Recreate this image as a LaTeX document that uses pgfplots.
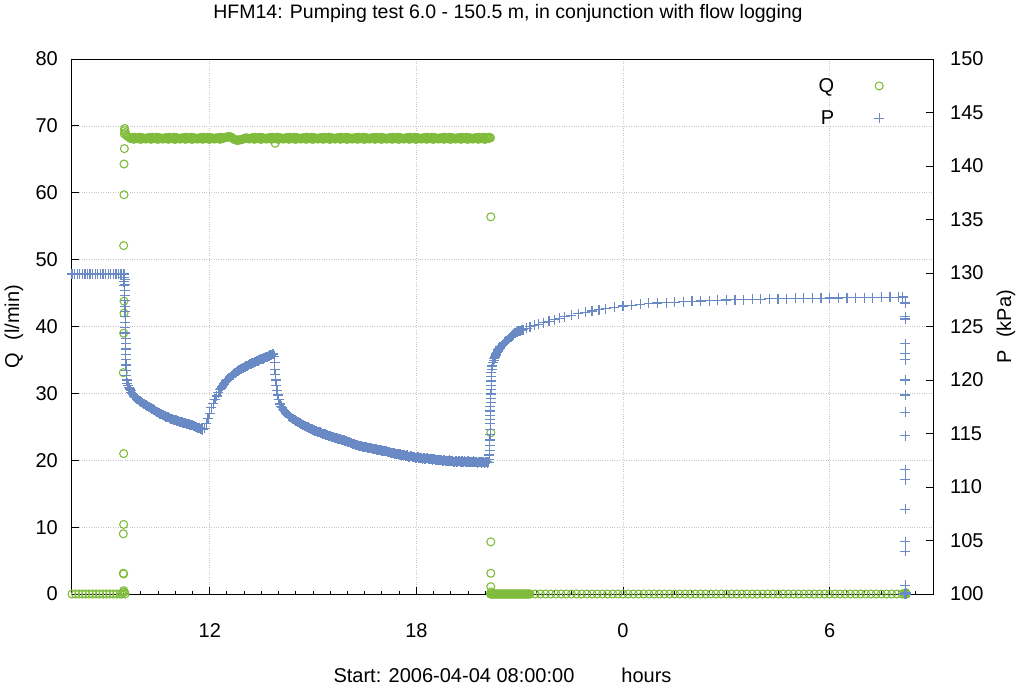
\documentclass[border=0pt]{standalone}
\usepackage{fontspec}
\setmainfont{Liberation Sans}
\usepackage{pgfplots}
\pgfplotsset{compat=1.18}
\definecolor{qgreen}{RGB}{128,188,60}
\definecolor{pblue}{RGB}{106,138,198}
\newcommand{\fs}{\fontsize{20}{24}\selectfont}
\pgfplotsset{
 common/.style={
  scale only axis, width=861pt, height=535pt, at={(0,0)}, anchor=south west,
  xmin=8, xmax=33, clip=false,
  tick align=inside, major tick length=7pt, minor tick length=3.5pt,
  /pgf/number format/assume math mode=true,
  tick label style={font=\fs},
  axis line style={line width=1pt},
  every tick/.style={black, line width=1pt},
 }
}
\begin{document}
\begin{tikzpicture}
\useasboundingbox (-72pt,-95pt) rectangle (944pt,594pt);
\begin{axis}[common,
 ymin=0, ymax=80, ytick={0,10,...,80},
 xtick={12,18,24,30}, xticklabels={12,18,0,6},
 minor xtick={8.5,9,...,32.5},
 xtick pos=left, ytick pos=left,
 grid=major, major grid style={dotted, color=black!22, line width=0.7pt},
 xticklabel style={anchor=base, yshift=-43pt, inner sep=0pt},
 yticklabel style={anchor=east, xshift=-14pt, inner sep=0pt},
 title={HFM14: Pumping test 6.0 - 150.5 m, in conjunction with flow logging},
 every axis title/.style={font=\fontsize{19.5}{23}\selectfont, at={(axis description cs:0.5064,1.0761)}, anchor=base},
 xlabel={Start: 2006-04-04 08:00:00\hspace{47pt}hours},
 every axis x label/.style={font=\fs, at={(axis description cs:0.5,-0.165)}, anchor=base},
 ylabel={Q\hspace{0.6em}(l/min)},
 every axis y label/.style={font=\fs, at={(axis description cs:-0.0674,0.5)}, rotate=90, anchor=center},
]
\addplot[only marks, mark=o, mark size=4pt, qgreen, line width=1.1pt] coordinates {
(8.0,0)(8.1,0)(8.2,0)(8.3,0)(8.4,0)(8.5,0)(8.6,0)(8.7,0)(8.8,0)(8.9,0)(9.0,0)(9.1,0)(9.2,0)(9.3,0)(9.4,0)(9.45,0)(9.48,0.2)(9.5,0.5)(9.52,0.3)(9.54,0)
(9.49,3.1)(9.50,3.0)(9.49,9.0)(9.50,10.4)(9.50,21.0)(9.49,33.1)(9.50,39.0)(9.51,42.0)(9.51,43.8)(9.50,52.1)(9.51,59.7)(9.51,64.3)(9.52,66.6)(9.52,68.8)(9.53,69.3)(9.53,69.6)(9.55,69.0)(9.58,68.6)(9.62,68.4)(9.66,68.3)
(9.70,68.1)(9.75,68.25)(9.80,68.0)(9.85,68.2)(9.90,68.1)(9.95,68.3)(10.00,68.0)(10.05,68.2)(10.10,68.15)(10.15,68.05)
(10.20,68.1)(10.25,68.25)(10.30,68.0)(10.35,68.2)(10.40,68.1)(10.45,68.3)(10.50,68.0)(10.55,68.2)(10.60,68.15)(10.65,68.05)
(10.70,68.1)(10.75,68.25)(10.80,68.0)(10.85,68.2)(10.90,68.1)(10.95,68.3)(11.00,68.0)(11.05,68.2)(11.10,68.15)(11.15,68.05)
(11.20,68.1)(11.25,68.25)(11.30,68.0)(11.35,68.2)(11.40,68.1)(11.45,68.3)(11.50,68.0)(11.55,68.2)(11.60,68.15)(11.65,68.05)
(11.70,68.1)(11.75,68.25)(11.80,68.0)(11.85,68.2)(11.90,68.1)(11.95,68.3)(12.00,68.0)(12.05,68.2)(12.10,68.15)(12.15,68.05)
(12.20,68.1)(12.25,68.25)(12.30,68.0)(12.35,68.2)(12.40,68.2)(12.45,68.3)(12.50,68.3)(12.55,68.4)(12.60,68.35)(12.65,68.2)
(12.70,68.0)(12.75,67.9)(12.80,67.85)(12.85,67.9)(12.90,67.95)(12.95,68.0)(13.00,68.1)(13.05,68.2)(13.10,68.15)(13.15,68.05)
(13.20,68.1)(13.25,68.25)(13.30,68.0)(13.35,68.2)(13.40,68.1)(13.45,68.3)(13.50,68.0)(13.55,68.2)(13.60,68.15)(13.65,68.05)
(13.70,68.1)(13.75,68.25)(13.80,68.0)(13.85,68.2)(13.90,68.1)(13.95,68.3)(14.00,68.0)(14.05,68.2)(14.10,68.15)(14.15,68.05)
(14.20,68.1)(14.25,68.25)(14.30,68.0)(14.35,68.2)(14.40,68.1)(14.45,68.3)(14.50,68.0)(14.55,68.2)(14.60,68.15)(14.65,68.05)
(14.70,68.1)(14.75,68.25)(14.80,68.0)(14.85,68.2)(14.90,68.1)(14.95,68.3)(15.00,68.0)(15.05,68.2)(15.10,68.15)(15.15,68.05)
(15.20,68.1)(15.25,68.25)(15.30,68.0)(15.35,68.2)(15.40,68.1)(15.45,68.3)(15.50,68.0)(15.55,68.2)(15.60,68.15)(15.65,68.05)
(15.70,68.1)(15.75,68.25)(15.80,68.0)(15.85,68.2)(15.90,68.1)(15.95,68.3)(16.00,68.0)(16.05,68.2)(16.10,68.15)(16.15,68.05)
(16.20,68.1)(16.25,68.25)(16.30,68.0)(16.35,68.2)(16.40,68.1)(16.45,68.3)(16.50,68.0)(16.55,68.2)(16.60,68.15)(16.65,68.05)
(16.70,68.1)(16.75,68.25)(16.80,68.0)(16.85,68.2)(16.90,68.1)(16.95,68.3)(17.00,68.0)(17.05,68.2)(17.10,68.15)(17.15,68.05)
(17.20,68.1)(17.25,68.25)(17.30,68.0)(17.35,68.2)(17.40,68.1)(17.45,68.3)(17.50,68.0)(17.55,68.2)(17.60,68.15)(17.65,68.05)
(17.70,68.1)(17.75,68.25)(17.80,68.0)(17.85,68.2)(17.90,68.1)(17.95,68.3)(18.00,68.0)(18.05,68.2)(18.10,68.15)(18.15,68.05)
(18.20,68.1)(18.25,68.25)(18.30,68.0)(18.35,68.2)(18.40,68.1)(18.45,68.3)(18.50,68.0)(18.55,68.2)(18.60,68.15)(18.65,68.05)
(18.70,68.1)(18.75,68.25)(18.80,68.0)(18.85,68.2)(18.90,68.1)(18.95,68.3)(19.00,68.0)(19.05,68.2)(19.10,68.15)(19.15,68.05)
(19.20,68.1)(19.25,68.25)(19.30,68.0)(19.35,68.2)(19.40,68.1)(19.45,68.3)(19.50,68.0)(19.55,68.2)(19.60,68.15)(19.65,68.05)
(19.70,68.1)(19.75,68.25)(19.80,68.0)(19.85,68.2)(19.90,68.1)(19.95,68.3)(20.00,68.0)(20.05,68.2)(20.10,68.15)(20.15,68.2)
(9.725,68.2)(9.775,68.05)(9.825,68.3)(9.875,68.1)(9.925,68.2)(9.975,68.0)(10.025,68.25)(10.075,68.1)(10.125,68.05)(10.175,68.2)
(10.225,68.2)(10.275,68.05)(10.325,68.3)(10.375,68.1)(10.425,68.2)(10.475,68.0)(10.525,68.25)(10.575,68.1)(10.625,68.05)(10.675,68.2)
(10.725,68.2)(10.775,68.05)(10.825,68.3)(10.875,68.1)(10.925,68.2)(10.975,68.0)(11.025,68.25)(11.075,68.1)(11.125,68.05)(11.175,68.2)
(11.225,68.2)(11.275,68.05)(11.325,68.3)(11.375,68.1)(11.425,68.2)(11.475,68.0)(11.525,68.25)(11.575,68.1)(11.625,68.05)(11.675,68.2)
(11.725,68.2)(11.775,68.05)(11.825,68.3)(11.875,68.1)(11.925,68.2)(11.975,68.0)(12.025,68.25)(12.075,68.1)(12.125,68.05)(12.175,68.2)
(12.225,68.2)(12.275,68.05)(12.325,68.3)(12.375,68.1)(12.425,68.25)(12.475,68.3)(12.525,68.35)(12.575,68.4)(12.625,68.3)(12.675,68.1)
(12.725,67.95)(12.775,67.88)(12.825,67.85)(12.875,67.9)(12.925,67.95)(12.975,68.05)(13.025,68.15)(13.075,68.18)(13.125,68.1)(13.175,68.1)
(13.225,68.2)(13.275,68.05)(13.325,68.3)(13.375,68.1)(13.425,68.2)(13.475,68.0)(13.525,68.25)(13.575,68.1)(13.625,68.05)(13.675,68.2)
(13.725,68.2)(13.775,68.05)(13.825,68.3)(13.875,68.1)(13.925,68.2)(13.975,68.0)(14.025,68.25)(14.075,68.1)(14.125,68.05)(14.175,68.2)
(14.225,68.2)(14.275,68.05)(14.325,68.3)(14.375,68.1)(14.425,68.2)(14.475,68.0)(14.525,68.25)(14.575,68.1)(14.625,68.05)(14.675,68.2)
(14.725,68.2)(14.775,68.05)(14.825,68.3)(14.875,68.1)(14.925,68.2)(14.975,68.0)(15.025,68.25)(15.075,68.1)(15.125,68.05)(15.175,68.2)
(15.225,68.2)(15.275,68.05)(15.325,68.3)(15.375,68.1)(15.425,68.2)(15.475,68.0)(15.525,68.25)(15.575,68.1)(15.625,68.05)(15.675,68.2)
(15.725,68.2)(15.775,68.05)(15.825,68.3)(15.875,68.1)(15.925,68.2)(15.975,68.0)(16.025,68.25)(16.075,68.1)(16.125,68.05)(16.175,68.2)
(16.225,68.2)(16.275,68.05)(16.325,68.3)(16.375,68.1)(16.425,68.2)(16.475,68.0)(16.525,68.25)(16.575,68.1)(16.625,68.05)(16.675,68.2)
(16.725,68.2)(16.775,68.05)(16.825,68.3)(16.875,68.1)(16.925,68.2)(16.975,68.0)(17.025,68.25)(17.075,68.1)(17.125,68.05)(17.175,68.2)
(17.225,68.2)(17.275,68.05)(17.325,68.3)(17.375,68.1)(17.425,68.2)(17.475,68.0)(17.525,68.25)(17.575,68.1)(17.625,68.05)(17.675,68.2)
(17.725,68.2)(17.775,68.05)(17.825,68.3)(17.875,68.1)(17.925,68.2)(17.975,68.0)(18.025,68.25)(18.075,68.1)(18.125,68.05)(18.175,68.2)
(18.225,68.2)(18.275,68.05)(18.325,68.3)(18.375,68.1)(18.425,68.2)(18.475,68.0)(18.525,68.25)(18.575,68.1)(18.625,68.05)(18.675,68.2)
(18.725,68.2)(18.775,68.05)(18.825,68.3)(18.875,68.1)(18.925,68.2)(18.975,68.0)(19.025,68.25)(19.075,68.1)(19.125,68.05)(19.175,68.2)
(19.225,68.2)(19.275,68.05)(19.325,68.3)(19.375,68.1)(19.425,68.2)(19.475,68.0)(19.525,68.25)(19.575,68.1)(19.625,68.05)(19.675,68.2)
(19.725,68.2)(19.775,68.05)(19.825,68.3)(19.875,68.1)(19.925,68.2)(19.975,68.0)(20.025,68.25)(20.075,68.1)(20.125,68.3)
(13.9,67.4)
(20.16,56.4)(20.16,24.1)(20.16,7.8)(20.16,3.1)(20.16,1.1)(20.17,0.3)
(20.15,0)(20.20,0)(20.25,0)(20.30,0)(20.35,0)(20.40,0)(20.45,0)(20.50,0)(20.55,0)(20.60,0)(20.65,0)(20.70,0)(20.75,0)(20.80,0)(20.85,0)(20.90,0)(20.95,0)(21.00,0)(21.05,0)(21.10,0)(21.15,0)(21.20,0)(21.25,0)(21.30,0)
(20.175,0)(20.225,0)(20.275,0)(20.325,0)(20.375,0)(20.425,0)(20.475,0)(20.525,0)(20.575,0)(20.625,0)(20.675,0)(20.725,0)(20.775,0)(20.825,0)(20.875,0)(20.925,0)(20.975,0)(21.025,0)(21.075,0)(21.125,0)(21.175,0)(21.225,0)(21.275,0)
(21.45,0)(21.60,0)(21.75,0)(21.90,0)(22.05,0)(22.20,0)(22.35,0)(22.50,0)(22.65,0)(22.80,0)(22.95,0)(23.10,0)(23.25,0)(23.40,0)(23.55,0)(23.70,0)(23.85,0)(24.00,0)(24.15,0)(24.30,0)(24.45,0)(24.60,0)(24.75,0)(24.90,0)
(25.05,0)(25.20,0)(25.35,0)(25.50,0)(25.65,0)(25.80,0)(25.95,0)(26.10,0)(26.25,0)(26.40,0)(26.55,0)(26.70,0)(26.85,0)(27.00,0)(27.15,0)(27.30,0)(27.45,0)(27.60,0)(27.75,0)(27.90,0)(28.05,0)(28.20,0)(28.35,0)(28.50,0)
(28.65,0)(28.80,0)(28.95,0)(29.10,0)(29.25,0)(29.40,0)(29.55,0)(29.70,0)(29.85,0)(30.00,0)(30.15,0)(30.30,0)(30.45,0)(30.60,0)(30.75,0)(30.90,0)(31.05,0)(31.20,0)(31.35,0)(31.50,0)(31.65,0)(31.80,0)(31.95,0)(32.10,0)
(32.16,0)(32.19,0)(32.21,0.2)(32.23,0)
};
\end{axis}
\begin{axis}[common,
 ymin=100, ymax=150, ytick={100,105,...,150},
 axis x line=none, axis y line*=right,
 yticklabel style={anchor=west, xshift=17pt, inner sep=0pt},
 ylabel={P\hspace{0.6em}(kPa)},
 every axis y label/.style={font=\fs, at={(axis description cs:1.0848,0.5)}, rotate=90, anchor=center},
 legend style={draw=none, fill=none, font=\fs, at={(axis description cs:0.947,0.972)}, anchor=north east, row sep=13pt, /tikz/every odd column/.append style={column sep=38pt}},
 legend cell align=right, legend plot pos=right,
]
\addlegendimage{only marks, mark=o, mark size=4pt, qgreen, line width=1.1pt}
\addlegendentry{Q}
\addplot[only marks, mark=+, mark size=5pt, pblue, line width=1.2pt] coordinates {
(8.000,129.9)(8.075,129.9)(8.150,129.9)(8.225,129.9)(8.300,129.9)(8.375,129.9)(8.450,129.9)(8.525,129.9)(8.600,129.9)(8.675,129.9)(8.750,129.9)(8.825,129.9)(8.900,129.9)(8.975,129.9)(9.050,129.9)(9.125,129.9)(9.200,129.9)(9.275,129.9)(9.350,129.9)(9.425,129.9)(9.500,129.9)
(9.50,129.6)(9.51,129.2)(9.52,128.8)
(9.52,129.9)(9.525,129.4)(9.53,128.9)(9.53,128.4)(9.535,127.9)(9.535,127.4)(9.54,126.9)(9.54,126.4)(9.545,125.9)(9.545,125.4)(9.55,124.9)(9.55,124.4)(9.555,123.9)(9.555,123.4)(9.56,122.9)(9.56,122.4)(9.565,121.9)(9.57,121.4)(9.575,120.9)(9.58,120.4)(9.59,120.0)
(9.60,119.7)(9.65,119.3)(9.70,119.0)(9.75,118.75)(9.80,118.5)(9.85,118.35)(9.90,118.2)(9.95,118.05)(10.00,117.95)(10.05,117.85)(10.10,117.75)(10.15,117.65)(10.20,117.55)(10.25,117.45)(10.30,117.35)(10.35,117.25)(10.40,117.15)(10.45,117.05)(10.50,116.95)(10.55,116.85)
(10.60,116.8)(10.65,116.7)(10.70,116.6)(10.75,116.55)(10.80,116.5)(10.85,116.4)(10.90,116.35)(10.95,116.3)(11.00,116.25)(11.05,116.2)(11.10,116.15)(11.15,116.1)(11.20,116.05)(11.25,116.0)(11.30,115.95)(11.35,115.9)(11.40,115.85)(11.45,115.8)(11.50,115.75)(11.55,115.7)
(11.60,115.6)(11.65,115.55)(11.70,115.5)(11.75,115.4)(11.80,115.35)
(9.625,119.5)(9.675,119.15)(9.725,118.85)(9.775,118.62)(9.825,118.42)(9.875,118.27)(9.925,118.12)(9.975,118.0)(10.025,117.9)(10.075,117.8)(10.125,117.7)(10.175,117.6)(10.225,117.5)(10.275,117.4)(10.325,117.3)(10.375,117.2)(10.425,117.1)(10.475,117.0)(10.525,116.9)(10.575,116.82)
(10.625,116.75)(10.675,116.65)(10.725,116.58)(10.775,116.52)(10.825,116.45)(10.875,116.38)(10.925,116.32)(10.975,116.27)(11.025,116.22)(11.075,116.17)(11.125,116.12)(11.175,116.07)(11.225,116.02)(11.275,115.97)(11.325,115.92)(11.375,115.87)(11.425,115.82)(11.475,115.77)(11.525,115.72)(11.575,115.65)
(11.625,115.58)(11.675,115.52)(11.725,115.45)(11.775,115.38)
(11.85,115.5)(11.90,115.9)(11.95,116.4)(12.00,116.9)(12.05,117.4)(12.10,117.8)(12.15,118.2)(12.20,118.5)(12.25,118.8)(12.30,119.1)(12.35,119.35)(12.40,119.6)(12.45,119.8)(12.50,120.0)(12.55,120.15)(12.60,120.3)(12.65,120.45)(12.70,120.55)(12.75,120.7)(12.80,120.8)
(12.85,120.9)(12.90,121.0)(12.95,121.1)(13.00,121.2)(13.05,121.3)(13.10,121.35)(13.15,121.45)(13.20,121.5)(13.25,121.6)(13.30,121.65)(13.35,121.75)(13.40,121.8)(13.45,121.9)(13.50,121.95)(13.55,122.0)(13.60,122.1)(13.65,122.15)(13.70,122.2)(13.75,122.3)(13.80,122.35)(13.85,122.45)
(12.325,119.22)(12.375,119.48)(12.425,119.7)(12.475,119.9)(12.525,120.08)(12.575,120.22)(12.625,120.38)(12.675,120.5)(12.725,120.62)(12.775,120.75)(12.825,120.85)(12.875,120.95)(12.925,121.05)(12.975,121.15)(13.025,121.25)(13.075,121.32)(13.125,121.4)(13.175,121.48)(13.225,121.55)(13.275,121.62)
(13.325,121.7)(13.375,121.78)(13.425,121.85)(13.475,121.92)(13.525,121.98)(13.575,122.05)(13.625,122.12)(13.675,122.18)(13.725,122.25)(13.775,122.32)(13.825,122.4)
(13.87,122.2)(13.88,121.6)(13.89,121.0)(13.90,120.5)(13.91,120.0)(13.93,119.5)(13.95,119.0)(13.97,118.6)(14.00,118.2)(14.03,117.8)
(14.05,117.7)(14.10,117.4)(14.15,117.15)(14.20,116.95)(14.25,116.8)(14.30,116.65)(14.35,116.5)(14.40,116.4)(14.45,116.3)(14.50,116.2)(14.55,116.1)(14.60,116.0)(14.65,115.9)(14.70,115.8)(14.75,115.72)(14.80,115.65)(14.85,115.57)(14.90,115.5)(14.95,115.42)(15.00,115.35)
(15.05,115.28)(15.10,115.22)(15.15,115.15)(15.20,115.1)(15.25,115.03)(15.30,114.97)(15.35,114.92)(15.40,114.87)(15.45,114.8)(15.50,114.75)(15.55,114.7)(15.60,114.65)(15.65,114.6)(15.70,114.55)(15.75,114.5)(15.80,114.45)(15.85,114.4)(15.90,114.35)(15.95,114.3)(16.00,114.25)
(16.05,114.2)(16.10,114.1)(16.15,114.05)(16.20,114.0)(16.25,113.95)(16.30,113.9)(16.35,113.85)(16.40,113.8)(16.45,113.77)(16.50,113.73)(16.55,113.7)(16.60,113.66)(16.65,113.63)(16.70,113.6)(16.75,113.56)(16.80,113.53)(16.85,113.5)(16.90,113.47)(16.95,113.44)(17.00,113.4)
(17.05,113.37)(17.10,113.34)(17.15,113.3)(17.20,113.27)(17.25,113.22)(17.30,113.18)(17.35,113.14)(17.40,113.1)(17.45,113.06)(17.50,113.02)(17.55,113.0)(17.60,112.95)(17.65,113.0)(17.70,112.9)(17.75,112.88)(17.80,112.85)(17.85,112.9)(17.90,112.8)(17.95,112.78)(18.00,112.75)
(18.05,112.8)(18.10,112.7)(18.15,112.72)(18.20,112.68)(18.25,112.65)(18.30,112.7)(18.35,112.6)(18.40,112.62)(18.45,112.58)(18.50,112.6)(18.55,112.52)(18.60,112.55)(18.65,112.5)(18.70,112.55)(18.75,112.45)(18.80,112.5)(18.85,112.45)(18.90,112.42)(18.95,112.48)(19.00,112.4)
(19.05,112.45)(19.10,112.38)(19.15,112.42)(19.20,112.35)(19.25,112.45)(19.30,112.38)(19.35,112.35)(19.40,112.42)(19.45,112.33)(19.50,112.4)(19.55,112.35)(19.60,112.3)(19.65,112.4)(19.70,112.32)(19.75,112.38)(19.80,112.3)(19.85,112.36)(19.90,112.28)(19.95,112.35)(20.00,112.3)
(20.05,112.33)(20.10,112.3)
(14.075,117.55)(14.125,117.27)(14.175,117.05)(14.225,116.87)(14.275,116.72)(14.325,116.57)(14.375,116.45)(14.425,116.35)(14.475,116.25)(14.525,116.15)(14.575,116.05)(14.625,115.95)(14.675,115.85)(14.725,115.76)(14.775,115.68)(14.825,115.61)(14.875,115.53)(14.925,115.46)(14.975,115.38)(15.025,115.31)
(15.075,115.25)(15.125,115.18)(15.175,115.12)(15.225,115.06)(15.275,115.0)(15.325,114.94)(15.375,114.9)(15.425,114.83)(15.475,114.78)(15.525,114.72)(15.575,114.67)(15.625,114.62)(15.675,114.57)(15.725,114.52)(15.775,114.47)(15.825,114.42)(15.875,114.37)(15.925,114.32)(15.975,114.27)(16.025,114.22)
(16.075,114.15)(16.125,114.07)(16.175,114.02)(16.225,113.97)(16.275,113.92)(16.325,113.87)(16.375,113.82)(16.425,113.78)(16.475,113.75)(16.525,113.71)(16.575,113.68)(16.625,113.64)(16.675,113.61)(16.725,113.58)(16.775,113.55)(16.825,113.51)(16.875,113.48)(16.925,113.45)(16.975,113.42)(17.025,113.38)
(17.075,113.35)(17.125,113.32)(17.175,113.28)(17.225,113.24)(17.275,113.2)(17.325,113.16)(17.375,113.12)(17.425,113.08)(17.475,113.04)(17.525,113.05)(17.575,112.92)(17.625,113.02)(17.675,112.92)(17.725,112.95)(17.775,112.83)(17.825,112.92)(17.875,112.82)(17.925,112.84)(17.975,112.72)(18.025,112.82)
(18.075,112.7)(18.125,112.75)(18.175,112.66)(18.225,112.7)(18.275,112.62)(18.325,112.68)(18.375,112.58)(18.425,112.65)(18.475,112.55)(18.525,112.6)(18.575,112.5)(18.625,112.56)(18.675,112.48)(18.725,112.52)(18.775,112.44)(18.825,112.5)(18.875,112.4)(18.925,112.47)(18.975,112.4)(19.025,112.46)
(19.075,112.36)(19.125,112.43)(19.175,112.34)(19.225,112.41)(19.275,112.32)(19.325,112.4)(19.375,112.34)(19.425,112.38)(19.475,112.3)(19.525,112.38)(19.575,112.32)(19.625,112.37)(19.675,112.3)(19.725,112.36)(19.775,112.28)(19.825,112.35)(19.875,112.3)(19.925,112.33)(19.975,112.27)(20.025,112.34)
(20.075,112.29)
(20.12,112.6)(20.12,113.0)(20.13,113.4)(20.13,113.9)(20.13,114.4)(20.14,114.9)(20.14,115.4)(20.14,115.9)(20.15,116.3)(20.15,116.7)(20.15,117.1)(20.15,117.5)(20.16,117.9)(20.16,118.3)(20.16,118.7)(20.17,119.1)(20.17,119.5)(20.17,119.9)(20.18,120.3)(20.18,120.7)(20.19,121.0)(20.20,121.3)
(20.22,121.6)(20.26,122.0)(20.30,122.3)(20.34,122.55)(20.38,122.8)(20.42,123.0)(20.46,123.15)(20.50,123.3)(20.55,123.45)(20.60,123.6)(20.65,123.75)(20.70,123.9)(20.75,124.05)(20.80,124.2)(20.85,124.35)(20.90,124.45)(20.95,124.55)(21.00,124.6)(21.05,124.65)(21.10,124.7)
(20.24,121.8)(20.28,122.15)(20.32,122.43)(20.36,122.68)(20.40,122.9)(20.44,123.08)(20.48,123.22)(20.525,123.38)(20.575,123.52)(20.625,123.68)(20.675,123.82)(20.725,123.98)(20.775,124.12)(20.825,124.28)(20.875,124.4)(20.925,124.5)(20.975,124.58)(21.025,124.62)(21.075,124.68)
(21.20,124.85)(21.30,125.0)(21.42,125.1)(21.55,125.2)(21.70,125.35)(21.85,125.5)(22.00,125.62)(22.15,125.75)(22.30,125.9)(22.50,126.05)(22.70,126.2)(22.90,126.33)(23.10,126.45)(23.30,126.58)(23.50,126.68)(23.75,126.8)(24.00,126.92)(24.25,127.0)(24.50,127.08)(24.75,127.15)
(25.00,127.2)(25.25,127.24)(25.50,127.28)(25.75,127.32)(26.00,127.35)(26.25,127.38)(26.50,127.42)(26.75,127.45)(27.00,127.48)(27.25,127.5)(27.50,127.52)(27.75,127.54)(28.00,127.56)(28.25,127.58)(28.50,127.6)(28.75,127.61)(29.00,127.62)(29.25,127.63)(29.50,127.64)(29.75,127.65)
(30.00,127.66)(30.25,127.67)(30.50,127.68)(30.75,127.69)(31.00,127.7)(31.25,127.71)(31.50,127.72)(31.75,127.73)(32.00,127.74)(32.12,127.75)
(32.19,127.2)(32.19,125.9)(32.19,125.7)(32.19,123.4)(32.19,122.5)(32.19,121.9)(32.19,120.0)(32.19,118.6)(32.19,117.0)(32.19,114.8)(32.19,111.6)(32.19,110.7)(32.19,107.9)(32.19,104.9)(32.19,104.0)(32.19,100.8)
(32.17,100.0)(32.19,100.0)(32.21,100.1)(32.23,100.0)
};
\addlegendentry{P}
\end{axis}
\end{tikzpicture}
\end{document}
